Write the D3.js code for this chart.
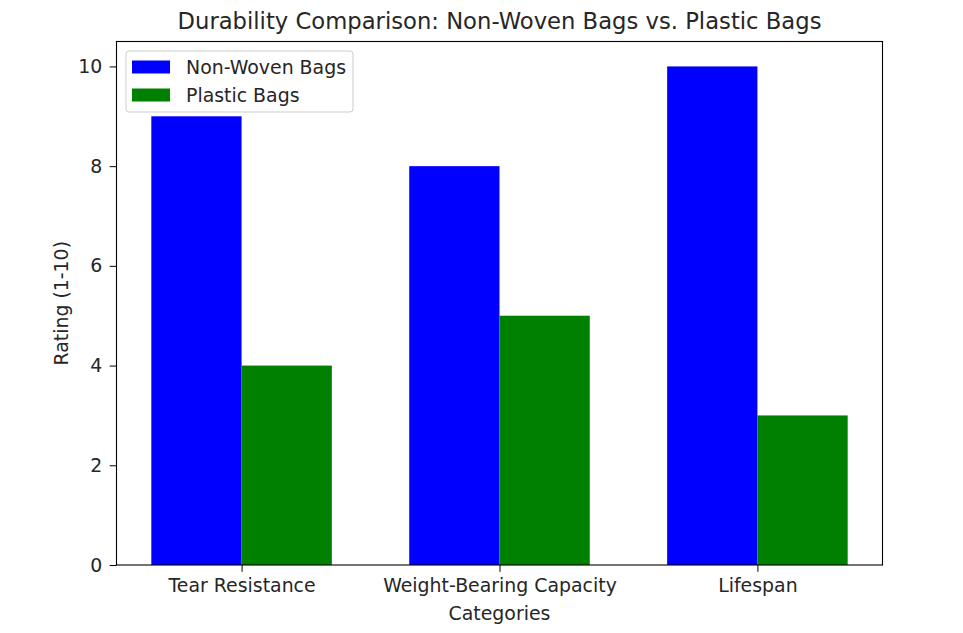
<!DOCTYPE html>
<html>
<head>
<meta charset="utf-8">
<script src="https://cdn.jsdelivr.net/npm/d3@7"></script>
<style>
  body { margin: 0; background: #fff; }
  text { font-family: "DejaVu Sans", sans-serif; fill: #262626; }
  .axis path, .axis line { stroke: #000; }
  .axis text { font-size: 18.9px; fill: #262626; }
</style>
</head>
<body>
<div id="chart"></div>
<script>
// chart data
const categories = ['Tear Resistance', 'Weight-Bearing Capacity', 'Lifespan']
const nonWoven = [9, 8, 10]
const plastic = [4, 5, 3]
const yTicks = [0, 2, 4, 6, 8, 10]
const seriesNames = ['Non-Woven Bags', 'Plastic Bags']
const seriesColors = ['#0000ff', '#008000']

let width = 963
let height = 633
let margin = { top: 41.5, right: 80.5, bottom: 68, left: 116.5 }
let barWidth = 0.35

let svg = d3.select('#chart')
    .append('svg')
    .attr('width', width)
    .attr('height', height)

// numeric x like matplotlib (category index), with 5% margins
let xScale = d3.scaleLinear()
    .domain([-0.35 - 0.135, categories.length - 1 + 0.35 + 0.135])
    .range([margin.left, width - margin.right])

let yScale = d3.scaleLinear()
    .domain([0, 10.5])
    .range([height - margin.bottom, margin.top])

let series = [nonWoven, plastic]

series.forEach((vals, s) => {
    svg.append('g')
        .selectAll('rect')
        .data(vals)
        .join('rect')
        .attr('x', (d, i) => xScale(i + (s === 0 ? -barWidth : 0)))
        .attr('width', xScale(barWidth) - xScale(0))
        .attr('y', d => yScale(d))
        .attr('height', d => yScale(0) - yScale(d))
        .attr('fill', seriesColors[s])
})

let xAxis = d3.axisBottom(xScale)
    .tickValues(categories.map((c, i) => i))
    .tickFormat(i => categories[i])
    .tickSize(6.8)
    .tickPadding(6.8)

let yAxis = d3.axisLeft(yScale)
    .tickValues(yTicks)
    .tickSize(6.8)
    .tickPadding(7.5)

svg.append('g')
    .attr('class', 'axis')
    .attr('transform', `translate(0,${height - margin.bottom})`)
    .call(xAxis)
    .call(g => g.select('.domain').remove())

svg.append('g')
    .attr('class', 'axis')
    .attr('transform', `translate(${margin.left},0)`)
    .call(yAxis)
    .call(g => g.select('.domain').remove())

// frame
svg.append('rect')
    .attr('x', margin.left)
    .attr('y', margin.top)
    .attr('width', width - margin.left - margin.right)
    .attr('height', height - margin.top - margin.bottom)
    .attr('fill', 'none')
    .attr('stroke', '#000')
    .attr('stroke-width', 1.1)

// title and labels
svg.append('text')
    .attr('x', (margin.left + width - margin.right) / 2)
    .attr('y', 28.5)
    .attr('text-anchor', 'middle')
    .style('font-size', '22.7px')
    .text('Durability Comparison: Non-Woven Bags vs. Plastic Bags')

svg.append('text')
    .attr('x', (margin.left + width - margin.right) / 2)
    .attr('y', 619.5)
    .attr('text-anchor', 'middle')
    .style('font-size', '18.9px')
    .text('Categories')

svg.append('text')
    .attr('transform', `translate(67.5,${(margin.top + height - margin.bottom) / 2}) rotate(-90)`)
    .attr('text-anchor', 'middle')
    .style('font-size', '18.9px')
    .text('Rating (1-10)')

// legend
let legend = svg.append('g')
    .attr('transform', `translate(126,51)`)

legend.append('rect')
    .attr('width', 227)
    .attr('height', 61)
    .attr('rx', 3)
    .attr('fill', 'rgba(255,255,255,0.8)')
    .attr('stroke', '#cccccc')

seriesNames.forEach((name, i) => {
    legend.append('rect')
        .attr('x', 6)
        .attr('y', 9.5 + i * 28)
        .attr('width', 38)
        .attr('height', 13)
        .attr('fill', seriesColors[i])
    legend.append('text')
        .attr('x', 60)
        .attr('y', 22.5 + i * 28)
        .style('font-size', '18.9px')
        .text(name)
})
</script>
</body>
</html>
